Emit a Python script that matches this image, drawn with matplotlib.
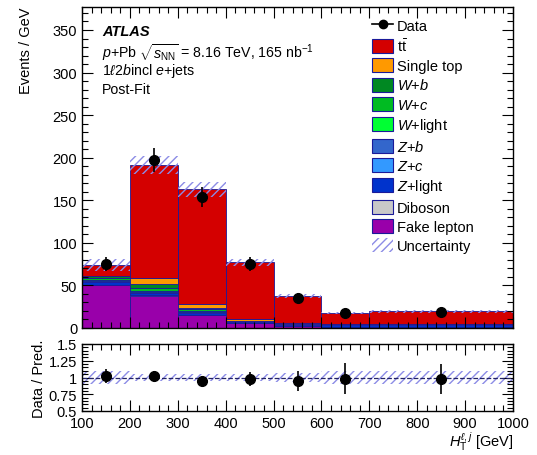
import numpy as np
import matplotlib
matplotlib.use("Agg")
import matplotlib.pyplot as plt
from matplotlib.patches import Patch
from matplotlib.lines import Line2D
from matplotlib.ticker import MultipleLocator, FixedLocator

plt.rcParams['font.family'] = ['Liberation Sans', 'DejaVu Sans']
plt.rcParams['mathtext.fontset'] = 'custom'
plt.rcParams['mathtext.rm'] = 'Liberation Sans'
plt.rcParams['mathtext.it'] = 'Liberation Sans:italic'
plt.rcParams['mathtext.bf'] = 'Liberation Sans:bold'
plt.rcParams['hatch.linewidth'] = 1.0

# H_T^{l,j} binning [GeV]
bin_edges = [100, 200, 300, 400, 500, 600, 700, 1000]

# Post-fit predictions, Events / GeV (stacked bottom to top)
fake_lepton = [50.5, 38.0, 15.0, 6.0, 2.0, 1.5, 1.5]
diboson     = [0.3, 0.3, 0.2, 0.1, 0.1, 0.1, 0.1]
z_light     = [3.5, 2.5, 3.0, 1.5, 2.0, 2.5, 2.5]
z_c         = [0.3, 0.5, 0.3, 0.2, 0.1, 0.1, 0.1]
z_b         = [0.3, 0.8, 0.5, 0.2, 0.1, 0.1, 0.1]
w_light     = [1.0, 1.5, 1.0, 0.2, 0.1, 0.1, 0.1]
w_c         = [2.5, 3.0, 2.0, 0.3, 0.2, 0.1, 0.1]
w_b         = [2.5, 5.5, 2.0, 0.3, 0.2, 0.1, 0.1]
single_top  = [0.5, 7.0, 4.0, 1.2, 0.5, 0.3, 0.3]
ttbar       = [12.6, 132.4, 135.0, 67.0, 32.2, 12.6, 14.6]

# Relative post-fit uncertainty on the total prediction
rel_unc = [0.095, 0.055, 0.055, 0.055, 0.06, 0.09, 0.09]

# Data
data_x   = [150, 250, 350, 450, 550, 650, 850]
data_y   = [75.5, 197.0, 154.0, 75.0, 35.5, 17.2, 19.0]
data_err = [8.0, 14.0, 12.0, 8.0, 5.5, 4.0, 4.3]

samples = [
    (fake_lepton, "#9900aa", "Fake lepton"),
    (diboson,     "#c8c8c8", "Diboson"),
    (z_light,     "#0033cc", "$Z$+light"),
    (z_c,         "#3399ff", "$Z$+$c$"),
    (z_b,         "#3366cc", "$Z$+$b$"),
    (w_light,     "#00ff33", "$W$+light"),
    (w_c,         "#00bb22", "$W$+$c$"),
    (w_b,         "#008822", "$W$+$b$"),
    (single_top,  "#ff9900", "Single top"),
    (ttbar,       "#d40000", r"$\mathrm{t\bar{t}}$"),
]

edges = np.array(bin_edges, dtype=float)
widths = np.diff(edges)
lefts = edges[:-1]

W, H = 537, 456
fig = plt.figure(figsize=(W / 100, H / 100), dpi=100)
ax = fig.add_axes([82 / W, 1 - 329 / H, 431 / W, 321 / H])
rax = fig.add_axes([82 / W, 1 - 412 / H, 431 / W, 67 / H])

bottom = np.zeros(len(lefts))
handles = []
for vals, col, lab in samples:
    v = np.array(vals)
    ax.bar(lefts, v, width=widths, bottom=bottom, align='edge', color=col,
           edgecolor='#1a1a99', linewidth=0.6)
    bottom = bottom + v
    handles.append(Patch(facecolor=col, edgecolor='#1a1a99', linewidth=0.8, label=lab))
total = bottom

unc = total * np.array(rel_unc)
ax.bar(lefts, 2 * unc, width=widths, bottom=total - unc, align='edge',
       fill=False, hatch='////', edgecolor='#8c8ce6', linewidth=0)

ax.errorbar(data_x, data_y, yerr=data_err, fmt='o', color='black',
            markersize=7, elinewidth=1.2, capsize=0, zorder=5)

# Ratio panel
ratio = np.array(data_y) / total
ratio_err = np.array(data_err) / total
rax.bar(lefts, 2 * np.array(rel_unc), width=widths, bottom=1 - np.array(rel_unc),
        align='edge', fill=False, hatch='////', edgecolor='#8c8ce6', linewidth=0)
rax.axhline(1.0, color='#222266', linestyle='--', linewidth=0.9)
rax.errorbar(data_x, ratio, yerr=ratio_err, fmt='o', color='black',
             markersize=7, elinewidth=1.2, capsize=0, zorder=5)

for a in (ax, rax):
    a.set_xlim(100, 1000)
    a.xaxis.set_major_locator(MultipleLocator(100))
    a.xaxis.set_minor_locator(MultipleLocator(20))
    a.tick_params(which='both', direction='in', top=True, right=True, labelsize=10.5)
    a.tick_params(which='major', length=8, width=0.8)
    a.tick_params(which='minor', length=4, width=0.8)
    for s in a.spines.values():
        s.set_linewidth(1.0)

ax.set_ylim(0, 377)
ax.yaxis.set_major_locator(MultipleLocator(50))
ax.yaxis.set_minor_locator(MultipleLocator(10))
ax.tick_params(labelbottom=False)

rax.set_ylim(0.5, 1.5)
rax.yaxis.set_major_locator(FixedLocator([0.5, 0.75, 1.0, 1.25, 1.5]))
rax.set_yticklabels(["0.5", "0.75", "1", "1.25", "1.5"])
rax.yaxis.set_minor_locator(MultipleLocator(0.05))

ax.set_ylabel("Events / GeV", fontsize=10.5, loc='top', labelpad=14)
rax.set_ylabel("Data / Pred.", fontsize=10.5, labelpad=2)
rax.set_xlabel(r"$H_{\mathrm{T}}^{\ell,j}$ [GeV]", fontsize=10.5, loc='right', labelpad=0)

ax.text(0.047, 0.924, "ATLAS", transform=ax.transAxes, fontsize=10.5,
        fontweight='bold', fontstyle='italic', va='center')
ax.text(0.047, 0.862, r"$p$+Pb $\sqrt{s_{\mathrm{NN}}}$ = 8.16 TeV, 165 nb$^{-1}$",
        transform=ax.transAxes, fontsize=10.2, va='center')
ax.text(0.047, 0.803, r"1$\ell$2$b$incl $e$+jets", transform=ax.transAxes,
        fontsize=10.2, va='center')
ax.text(0.047, 0.745, "Post-Fit", transform=ax.transAxes, fontsize=10.2, va='center')

data_handle = Line2D([], [], color='black', marker='o', markersize=6, linestyle='-',
                     linewidth=1.2)
unc_handle = Patch(facecolor='none', hatch='////', edgecolor='#8c8ce6', linewidth=0)
leg_handles = [data_handle] + handles[::-1] + [unc_handle]
leg_labels = ["Data"] + [h.get_label() for h in handles[::-1]] + ["Uncertainty"]
ax.legend(leg_handles, leg_labels, loc='upper left', bbox_to_anchor=(0.66, 0.985),
          frameon=False, fontsize=10.5, handlelength=1.4, handleheight=1.1,
          labelspacing=0.3, handletextpad=0.3, borderaxespad=0)

fig.savefig("out.png", dpi=100)
